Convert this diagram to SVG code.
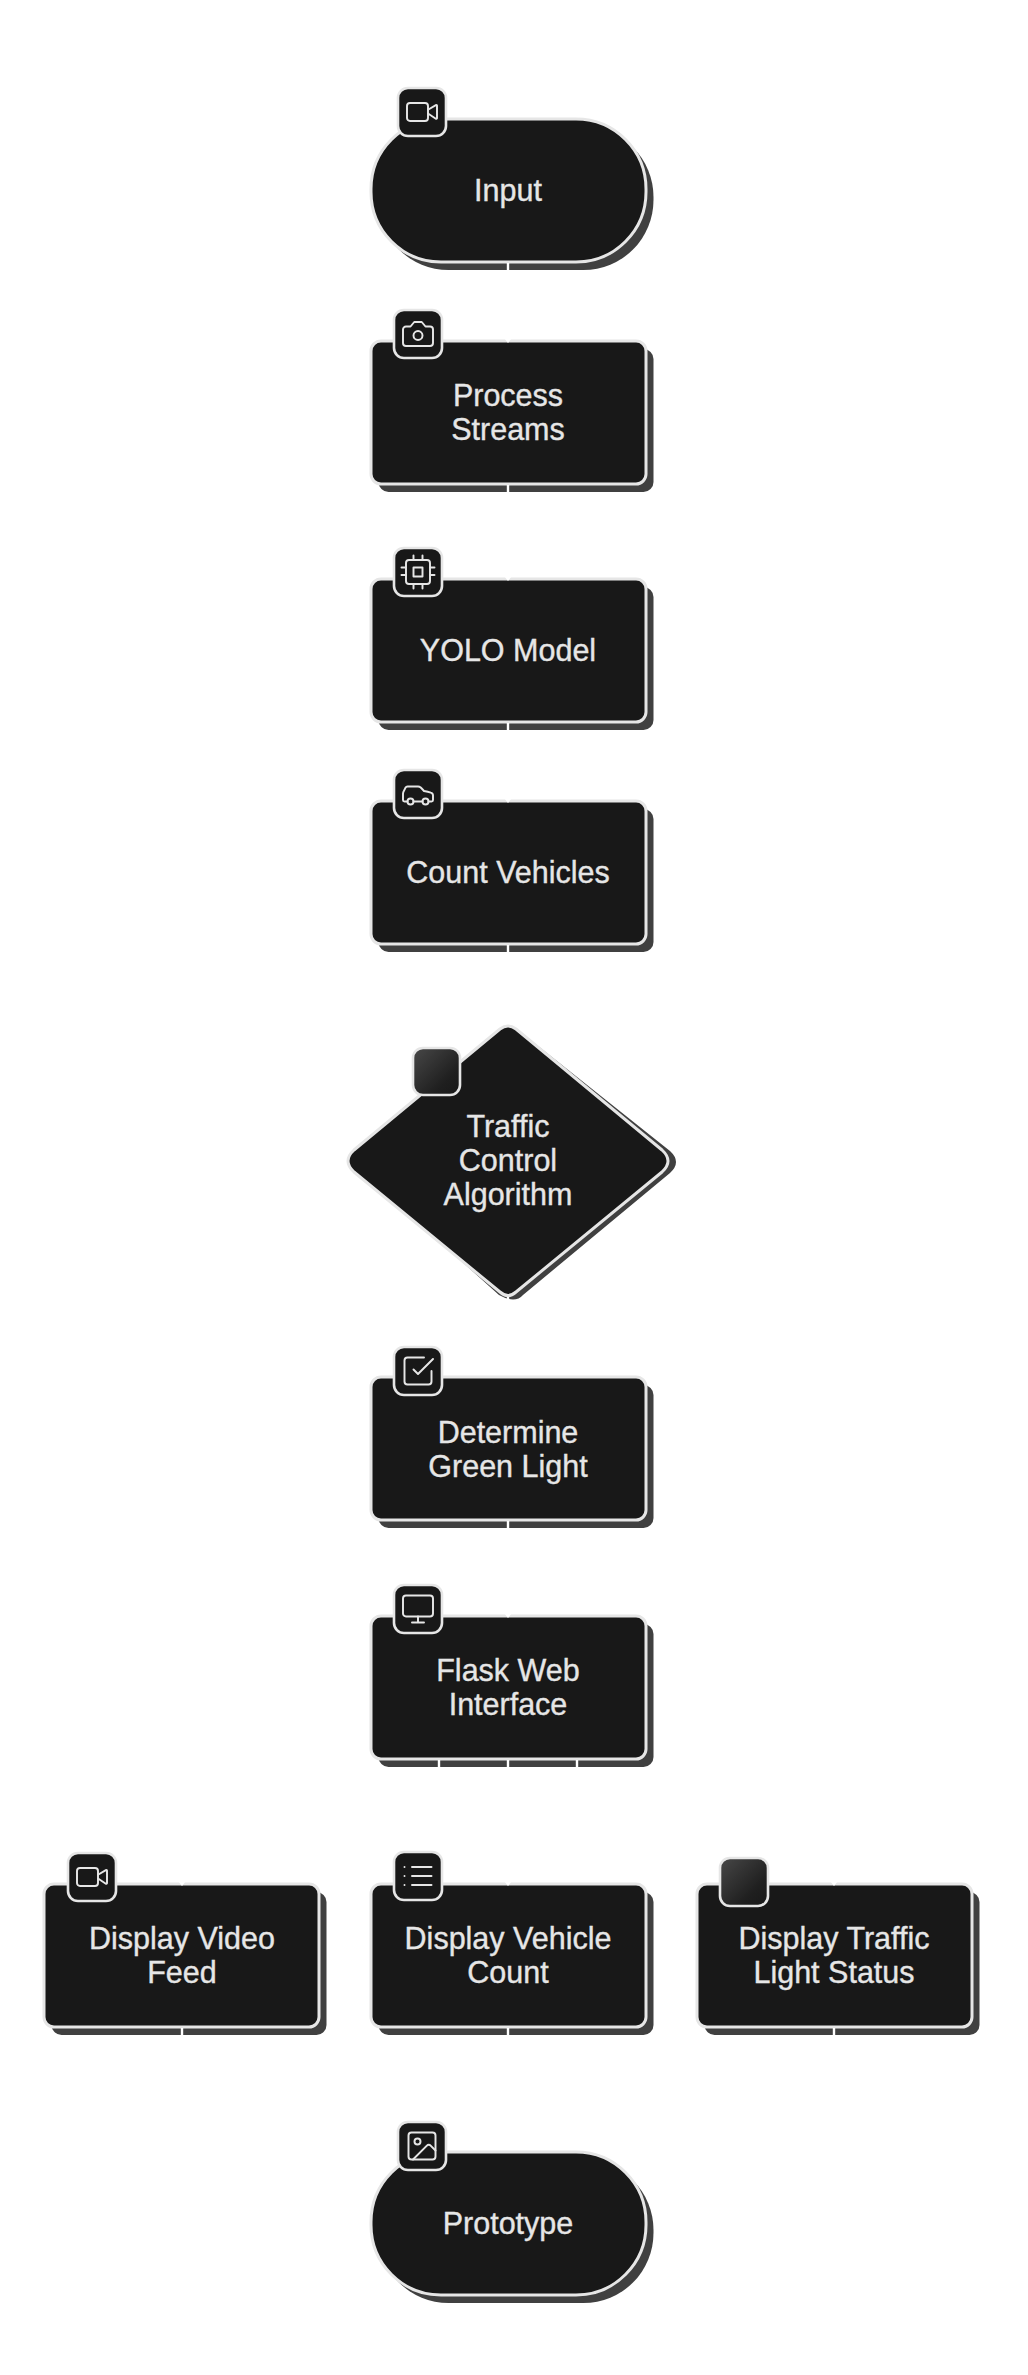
<svg xmlns="http://www.w3.org/2000/svg" width="1028" height="2375" viewBox="0 0 1028 2375">
<style>
.sh{fill:#404040;stroke:none}
.b{fill:#181818;stroke:#e6e6e6;stroke-width:3;stroke-linejoin:round}
.ib{fill:#181818;stroke:#e6e6e6;stroke-width:2.6}
.ie{fill:url(#g);stroke:#e6e6e6;stroke-width:2.6}
.t{font-family:"Liberation Sans",Arial,sans-serif;font-size:30.5px;fill:#e6e6e6;stroke:#e6e6e6;stroke-width:.35;text-anchor:middle}
.ic{fill:none;stroke:#e6e6e6;stroke-width:1.3;stroke-linecap:round;stroke-linejoin:round}
.c{fill:none;stroke:#fff;stroke-width:2.4}
</style>
<defs>
<linearGradient id="g" x1="0" y1="0" x2="1" y2="1"><stop offset="0" stop-color="#484848"/><stop offset="0.7" stop-color="#1f1f1f"/><stop offset="1" stop-color="#181818"/></linearGradient>
<marker id="a" markerUnits="userSpaceOnUse" markerWidth="10" markerHeight="10" refX="0" refY="5" orient="auto" viewBox="0 0 10 10"><path d="M0 1 5 5 0 9z" fill="#fff"/></marker>
<symbol id="video" viewBox="0 0 24 24" overflow="visible"><path class="ic" d="m16 13 5.223 3.482a.5.5 0 0 0 .777-.416V7.87a.5.5 0 0 0-.752-.432L16 10.5"/><rect class="ic" x="2" y="6" width="14" height="12" rx="2"/></symbol>
<symbol id="camera" viewBox="0 0 24 24" overflow="visible"><path class="ic" d="M14.5 4h-5L7 7H4a2 2 0 0 0-2 2v9a2 2 0 0 0 2 2h16a2 2 0 0 0 2-2V9a2 2 0 0 0-2-2h-3l-2.5-3z"/><circle class="ic" cx="12" cy="13" r="3"/></symbol>
<symbol id="cpu" viewBox="0 0 24 24" overflow="visible"><rect class="ic" x="4" y="4" width="16" height="16" rx="2"/><rect class="ic" x="9" y="9" width="6" height="6"/><path class="ic" d="M9 1v3M15 1v3M9 20v3M15 20v3M20 9h3M20 14h3M1 9h3M1 14h3"/></symbol>
<symbol id="car" viewBox="0 0 24 24" overflow="visible"><path class="ic" d="M19 17h2c.6 0 1-.4 1-1v-3c0-.9-.7-1.7-1.5-1.9C18.7 10.6 16 10 16 10s-1.3-1.4-2.2-2.3c-.5-.4-1.1-.7-1.8-.7H5c-.6 0-1.1.4-1.4.9l-1.4 2.9A3.7 3.7 0 0 0 2 12v4c0 .6.4 1 1 1h2"/><circle class="ic" cx="7" cy="17" r="2"/><path class="ic" d="M9 17h6"/><circle class="ic" cx="17" cy="17" r="2"/></symbol>
<symbol id="check" viewBox="0 0 24 24" overflow="visible"><polyline class="ic" points="9 11 12 14 22 4"/><path class="ic" d="M21 12v7a2 2 0 0 1-2 2H5a2 2 0 0 1-2-2V5a2 2 0 0 1 2-2h11"/></symbol>
<symbol id="monitor" viewBox="0 0 24 24" overflow="visible"><rect class="ic" x="2" y="3" width="20" height="14" rx="2"/><path class="ic" d="M8 21h8M12 17v4"/></symbol>
<symbol id="list" viewBox="0 0 24 24" overflow="visible"><path class="ic" d="M8 6h13M8 12h13M8 18h13M3 6h.01M3 12h.01M3 18h.01"/></symbol>
<symbol id="img" viewBox="0 0 24 24" overflow="visible"><rect class="ic" x="3" y="3" width="18" height="18" rx="2"/><circle class="ic" cx="9" cy="9" r="2"/><path class="ic" d="m21 15-3.086-3.086a2 2 0 0 0-2.828 0L6 21"/></symbol>
</defs>
<rect width="1028" height="2375" fill="#fff"/>
<g id="node-input"><rect class="sh" x="378.500" y="127" width="275" height="143" rx="70"/><rect class="b" x="371" y="119" width="275" height="143" rx="70"/><text class="t" x="508" y="201">Input</text><rect class="ib" x="398" y="88" width="48" height="48" rx="10"/><use href="#video" x="404" y="94" width="36" height="36"/></g>
<g id="node-process"><rect class="sh" x="378.500" y="349" width="275" height="143" rx="10"/><rect class="b" x="371" y="341" width="275" height="143" rx="10"/><text class="t" x="508" y="405.500">Process</text><text class="t" x="508" y="439.500">Streams</text><rect class="ib" x="394" y="310" width="48" height="48" rx="10"/><use href="#camera" x="400" y="316" width="36" height="36"/></g>
<g id="node-yolo"><rect class="sh" x="378.500" y="587" width="275" height="143" rx="10"/><rect class="b" x="371" y="579" width="275" height="143" rx="10"/><text class="t" x="508" y="660.500">YOLO Model</text><rect class="ib" x="394" y="548" width="48" height="48" rx="10"/><use href="#cpu" x="400" y="554" width="36" height="36"/></g>
<g id="node-count"><rect class="sh" x="378.500" y="809" width="275" height="143" rx="10"/><rect class="b" x="371" y="801" width="275" height="143" rx="10"/><text class="t" x="508" y="882.500">Count Vehicles</text><rect class="ib" x="394" y="770" width="48" height="48" rx="10"/><use href="#car" x="400" y="776" width="36" height="36"/></g>
<g id="node-algo"><path class="sh" d="M499 1034Q515 1026 523 1034L670 1151Q682 1162 670 1173L523 1295Q515 1304 499 1295L363 1173Q350 1162 363 1151Z"/><path class="b" d="M500 1029Q508 1023 516 1029L662 1150Q674 1161 662 1172L516 1292Q508 1299 500 1292L354 1172Q342 1161 354 1150Z"/><text class="t" x="508" y="1137">Traffic</text><text class="t" x="508" y="1171">Control</text><text class="t" x="508" y="1205">Algorithm</text><rect class="ie" x="413" y="1048" width="47" height="47" rx="10"/></g>
<g id="node-green"><rect class="sh" x="378.500" y="1385" width="275" height="143" rx="10"/><rect class="b" x="371" y="1377" width="275" height="143" rx="10"/><text class="t" x="508" y="1442.500">Determine</text><text class="t" x="508" y="1476.500">Green Light</text><rect class="ib" x="394" y="1347" width="48" height="48" rx="10"/><use href="#check" x="400" y="1353" width="36" height="36"/></g>
<g id="node-flask"><rect class="sh" x="378.500" y="1624" width="275" height="143" rx="10"/><rect class="b" x="371" y="1616" width="275" height="143" rx="10"/><text class="t" x="508" y="1681">Flask Web</text><text class="t" x="508" y="1715">Interface</text><rect class="ib" x="394" y="1585" width="48" height="48" rx="10"/><use href="#monitor" x="400" y="1591" width="36" height="36"/></g>
<g id="node-feed"><rect class="sh" x="51.500" y="1892" width="275" height="143" rx="10"/><rect class="b" x="44" y="1884" width="275" height="143" rx="10"/><text class="t" x="182" y="1949">Display Video</text><text class="t" x="182" y="1983">Feed</text><rect class="ib" x="68" y="1853" width="48" height="48" rx="10"/><use href="#video" x="74" y="1859" width="36" height="36"/></g>
<g id="node-vcount"><rect class="sh" x="378.500" y="1892" width="275" height="143" rx="10"/><rect class="b" x="371" y="1884" width="275" height="143" rx="10"/><text class="t" x="508" y="1949">Display Vehicle</text><text class="t" x="508" y="1983">Count</text><rect class="ib" x="394" y="1852" width="48" height="48" rx="10"/><use href="#list" x="400" y="1858" width="36" height="36"/></g>
<g id="node-status"><rect class="sh" x="704.500" y="1892" width="275" height="143" rx="10"/><rect class="b" x="697" y="1884" width="275" height="143" rx="10"/><text class="t" x="834" y="1949">Display Traffic</text><text class="t" x="834" y="1983">Light Status</text><rect class="ie" x="720" y="1858" width="48" height="48" rx="10"/></g>
<g id="node-proto"><rect class="sh" x="378.500" y="2160" width="275" height="143" rx="70"/><rect class="b" x="371" y="2152" width="275" height="143" rx="70"/><text class="t" x="508" y="2234">Prototype</text><rect class="ib" x="398" y="2122" width="48" height="48" rx="10"/><use href="#img" x="404" y="2128" width="36" height="36"/></g>
<g id="connectors">
<path class="c" marker-end="url(#a)" d="M508 263V338"/>
<path class="c" marker-end="url(#a)" d="M508 485V576"/>
<path class="c" marker-end="url(#a)" d="M508 723V798"/>
<path class="c" d="M508 945V1022"/>
<path class="c" d="M508 1297V1374"/>
<path class="c" marker-end="url(#a)" d="M508 1521V1613"/>
<path class="c" marker-end="url(#a)" d="M439 1760V1770C439 1830 182 1810 182 1870V1881"/>
<path class="c" marker-end="url(#a)" d="M508 1760V1881"/>
<path class="c" marker-end="url(#a)" d="M577 1760V1770C577 1830 834 1810 834 1870V1881"/>
<path class="c" d="M182 2028V2038C182 2090 480 2080 480 2149"/>
<path class="c" d="M508 2028V2149"/>
<path class="c" d="M834 2028V2038C834 2090 540 2080 540 2149"/>
</g>
</svg>
